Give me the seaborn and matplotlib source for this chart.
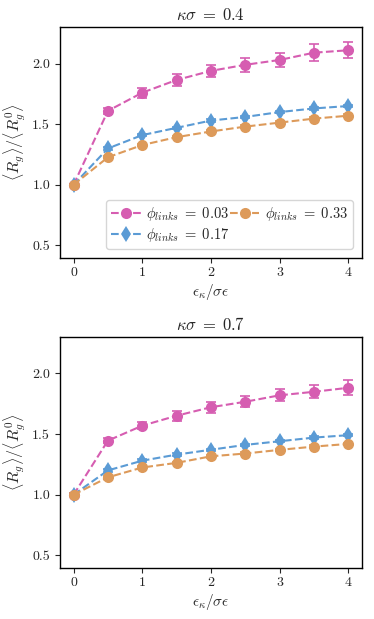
import numpy as np
import pandas as pd
import matplotlib
matplotlib.use("Agg")
import matplotlib.pyplot as plt
import seaborn as sns

# ---- data ----
x = [0, 0.5, 1, 1.5, 2, 2.5, 3, 3.5, 4]
titles = [r"$\kappa\sigma\;=\;0.4$", r"$\kappa\sigma\;=\;0.7$"]
labels = [r"$\phi_{links}\;=\;0.03$", r"$\phi_{links}\;=\;0.17$", r"$\phi_{links}\;=\;0.33$"]

pink_04 = [1.00, 1.61, 1.76, 1.865, 1.94, 1.99, 2.03, 2.09, 2.11]
pink_04_err = [0.01, 0.025, 0.04, 0.05, 0.05, 0.06, 0.06, 0.07, 0.065]
blue_04 = [1.00, 1.30, 1.41, 1.47, 1.53, 1.56, 1.60, 1.63, 1.65]
orange_04 = [1.00, 1.227, 1.328, 1.393, 1.44, 1.48, 1.513, 1.546, 1.57]

pink_07 = [1.00, 1.445, 1.568, 1.65, 1.72, 1.765, 1.818, 1.847, 1.88]
pink_07_err = [0.01, 0.02, 0.03, 0.04, 0.045, 0.045, 0.05, 0.055, 0.06]
blue_07 = [1.00, 1.20, 1.28, 1.33, 1.37, 1.41, 1.44, 1.47, 1.49]
orange_07 = [1.00, 1.143, 1.224, 1.262, 1.316, 1.339, 1.369, 1.396, 1.418]

small_err = [0.01] * 9

colors = ["#d65db1", "#5b9bd5", "#dd9a5a"]
markers = ["o", "d", "o"]

sns.set_theme(style="ticks")
plt.rcParams["font.family"] = ["serif"]
plt.rcParams["font.serif"] = ["cmr10", "DejaVu Serif"]
plt.rcParams["mathtext.fontset"] = "cm"
plt.rcParams["axes.formatter.use_mathtext"] = True
plt.rcParams["axes.unicode_minus"] = False

fig = plt.figure(figsize=(3.74, 6.19), dpi=100)
ax1 = fig.add_axes([0.160, 0.584, 0.808, 0.372])
ax2 = fig.add_axes([0.160, 0.083, 0.808, 0.373])

panels = [
    (ax1, [pink_04, blue_04, orange_04], [pink_04_err, small_err, small_err]),
    (ax2, [pink_07, blue_07, orange_07], [pink_07_err, small_err, small_err]),
]

for i, (ax, series, errs) in enumerate(panels):
    for s, e, c, m, lab in zip(series, errs, colors, markers, labels):
        df = pd.DataFrame({"x": x, "y": s})
        ax.errorbar(x, s, yerr=e, fmt="none", ecolor=c, elinewidth=1.2,
                    capsize=3.5, capthick=1.2, zorder=2)
        sns.lineplot(data=df, x="x", y="y", ax=ax, color=c, linestyle="--",
                     linewidth=1.5, marker=m, markersize=8, mew=0,
                     mec=c, label=lab, zorder=3)
    ax.set_xlim(-0.2, 4.2)
    ax.set_ylim(0.4, 2.3)
    ax.set_xticks([0, 1, 2, 3, 4])
    ax.set_yticks([0.5, 1.0, 1.5, 2.0])
    ax.set_xticklabels(["0", "1", "2", "3", "4"])
    ax.set_yticklabels(["0.5", "1.0", "1.5", "2.0"])
    ax.tick_params(labelsize=10, length=3.5, width=0.8, direction="out",
                   top=False, right=False)
    for sp in ax.spines.values():
        sp.set_visible(True)
        sp.set_linewidth(1.0)
        sp.set_color("black")
    ax.set_title(titles[i], fontsize=12, pad=5)
    ax.set_xlabel(r"$\epsilon_\kappa/\sigma\epsilon$", fontsize=11, labelpad=2)
    ax.set_ylabel(r"$\langle R_g\rangle/\langle R_g^0\rangle$", fontsize=11.5, labelpad=3)
    if i == 0:
        ax.legend(loc="lower right", ncol=2, fontsize=10.5, columnspacing=0.0,
                  handlelength=2.0, handletextpad=0.4, labelspacing=0.15,
                  borderpad=0.35, frameon=True, fancybox=True,
                  borderaxespad=0.6)
    else:
        lg = ax.get_legend()
        if lg is not None:
            lg.remove()

fig.savefig("out.png", dpi=100)
